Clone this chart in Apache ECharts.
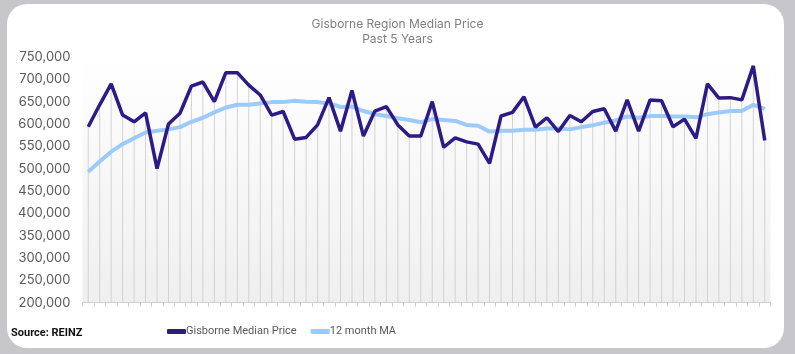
<!DOCTYPE html>
<html>
<head>
<meta charset="utf-8">
<script src="https://cdn.jsdelivr.net/npm/echarts@6/dist/echarts.min.js"></script>
<style>
html,body{margin:0;padding:0;background:#c7c6cb;}
#c{width:795px;height:354px;}
</style>
</head>
<body>
<div id="c"></div>
<script>
const months = [];
for (let i = 0; i < 60; i++) months.push('M' + (i + 1));
const medianPrice = [
  594000, 643000, 690000, 620000, 605000, 625000, 500000, 600000, 624000, 685000,
  694000, 650000, 715000, 715000, 687000, 665000, 620000, 628000, 566000, 570000,
  598000, 659000, 584000, 675000, 573000, 629000, 639000, 598000, 573000, 573000,
  650000, 548000, 569000, 560000, 555000, 512000, 618000, 626000, 661000, 593000,
  614000, 583000, 619000, 605000, 628000, 634000, 584000, 654000, 584000, 654000,
  652000, 594000, 611000, 568000, 690000, 658000, 659000, 654000, 730000, 563000
];
const movingAvg = [
  493000, 516000, 538000, 555000, 568000, 581000, 585000, 588000, 593000, 605000,
  614000, 626000, 637000, 643000, 643000, 646000, 649000, 649000, 652000, 650000,
  649000, 646000, 638000, 639000, 629000, 622000, 618000, 613000, 609000, 604000,
  611000, 609000, 607000, 598000, 596000, 583000, 585000, 585000, 587000, 587000,
  590000, 590000, 588000, 593000, 597000, 603000, 608000, 617000, 614000, 618000,
  618000, 617000, 617000, 615000, 622000, 626000, 629000, 629000, 643000, 634000
];
const yTicks = { min: 200000, max: 750000, interval: 50000 };

const chart = echarts.init(document.getElementById('c'), null, { renderer: 'canvas' });
chart.setOption({
  animation: false,
  backgroundColor: 'transparent',
  graphic: [
    { type: 'rect', z: -10, silent: true,
      shape: { x: 7, y: 4, width: 777, height: 344, r: 20 },
      style: { fill: '#ffffff' } },
    { type: 'text', left: 11, top: 328, silent: true,
      style: { text: 'Source: REINZ', font: 'bold 11px "Roboto", sans-serif', fill: '#111111' } }
  ],
  title: {
    text: 'Gisborne Region Median Price\nPast 5 Years',
    left: 'center', top: 12,
    textStyle: { fontFamily: 'Inter', fontSize: 12, fontWeight: 'normal', color: '#7f7f7f', lineHeight: 15 }
  },
  legend: {
    left: 162, top: 321,
    data: ['Gisborne Median Price', '12 month MA'],
    icon: 'roundRect', itemWidth: 19, itemHeight: 5, itemGap: 14,
    textStyle: { fontFamily: 'Roboto', fontSize: 11, color: '#595959', padding: [0, 0, 0, -5] }
  },
  grid: {
    left: 82.5, right: 24.5, top: 57, bottom: 51.3,
    show: true, borderWidth: 0,
    backgroundColor: new echarts.graphic.LinearGradient(0, 0, 0, 1, [
      { offset: 0, color: '#ffffff' }, { offset: 1, color: '#efefef' }
    ])
  },
  xAxis: {
    type: 'category', data: months, boundaryGap: true,
    axisLine: { lineStyle: { color: '#d0d0d0', width: 1 } },
    axisTick: { show: true, interval: 0, length: 4, lineStyle: { color: '#d0d0d0' } },
    axisLabel: { show: false, interval: 0 },
    splitLine: { show: false }
  },
  yAxis: {
    type: 'value', min: yTicks.min, max: yTicks.max, interval: yTicks.interval,
    axisLine: { show: false }, axisTick: { show: false },
    splitLine: { show: false },
    axisLabel: {
      margin: 12, fontFamily: 'Inter', fontSize: 13, color: '#595959',
      formatter: v => v.toLocaleString('en-US')
    }
  },
  series: [
    { name: 'drop', type: 'bar', data: medianPrice, barWidth: 1, silent: true,
      itemStyle: { color: '#d3d3d3' }, z: 1 },
    { name: '12 month MA', type: 'line', data: movingAvg, symbol: 'none', z: 3,
      lineStyle: { color: '#9ccbfb', width: 4 }, itemStyle: { color: '#9ccbfb' } },
    { name: 'Gisborne Median Price', type: 'line', data: medianPrice, symbol: 'none', z: 4,
      lineStyle: { color: '#2e1a87', width: 3.5 }, itemStyle: { color: '#2e1a87' } }
  ]
});
</script>
</body>
</html>
